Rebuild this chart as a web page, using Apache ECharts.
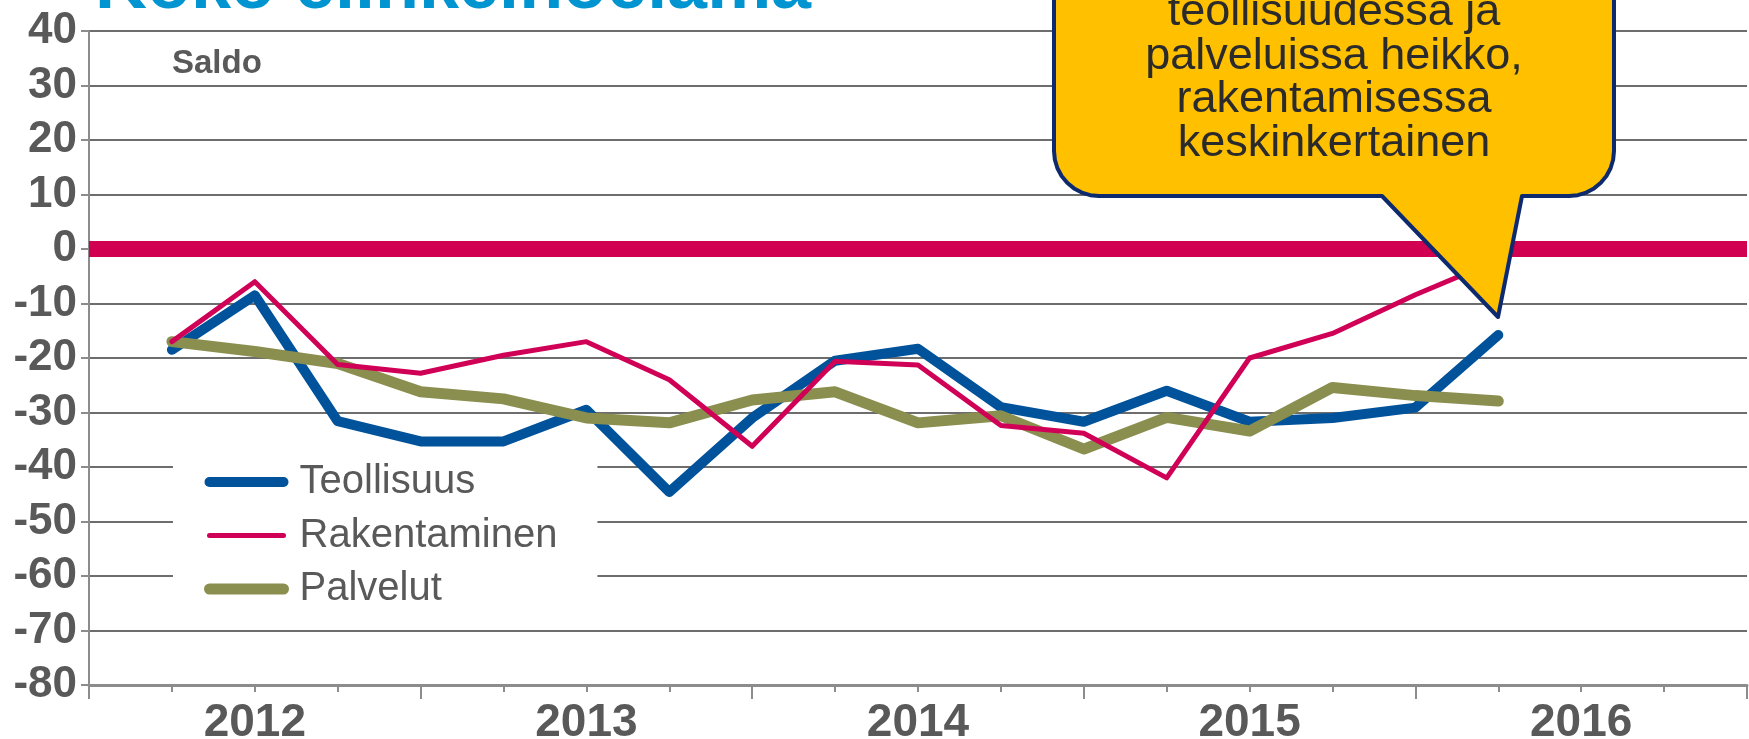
<!DOCTYPE html>
<html>
<head>
<meta charset="utf-8">
<script src="https://cdn.jsdelivr.net/npm/echarts@6/dist/echarts.min.js"></script>
<style>
  html, body { margin: 0; padding: 0; background: #fff; }
  #chart { width: 1749px; height: 739px; }
</style>
</head>
<body>
<div id="chart"></div>
<script>
// x positions: 21 tick points, data sits on points 1..17
const xLabels = ['', '', '2012', '', '', '', '2013', '', '', '', '2014', '', '', '', '2015', '', '', '', '2016', '', ''];
const yTicks = { min: -80, max: 40, step: 10 };

const teollisuus = [-18.5, -8.5, -31.6, -35.3, -35.3, -29.5, -44.6, -31, -20.5, -18.3, -29, -31.7, -26, -31.7, -31, -29.1, -15.8];
const rakentaminen = [-17, -6, -21.2, -22.8, -19.5, -17, -24, -36.2, -20.6, -21.3, -32.4, -33.8, -42, -20, -15.5, -8.4, -2];
const palvelut = [-17, -18.8, -21, -26.2, -27.5, -31, -31.9, -27.7, -26.2, -31.9, -30.6, -36.7, -30.9, -33.4, -25.4, -26.9, -27.9];

const calloutLines = ['teollisuudessa ja', 'palveluissa heikko,', 'rakentamisessa', 'keskinkertainen'];

const font = '"Liberation Sans", Arial, sans-serif';
const gray = '#595959';

// pad: first tick point is empty, series start at index 1
const pad = arr => [null].concat(arr);

// speech bubble outline (rounded bottom corners + pointer)
function bubblePoints(l, r, t, b, rad, tip) {
    const pts = [[l, t], [r, t]];
    for (let k = 0; k <= 8; k++) {
        const a = (Math.PI / 2) * k / 8;
        pts.push([r - rad + rad * Math.cos(a), b - rad + rad * Math.sin(a)]);
    }
    pts.push([tip.right, b], [tip.x, tip.y], [tip.left, b]);
    for (let k = 0; k <= 8; k++) {
        const a = Math.PI / 2 + (Math.PI / 2) * k / 8;
        pts.push([l + rad + rad * Math.cos(a), b - rad + rad * Math.sin(a)]);
    }
    return pts;
}

const chart = echarts.init(document.getElementById('chart'));

const option = {
    animation: false,
    grid: { left: 89, right: 2, top: 31, bottom: 54, outerBoundsMode: 'none' },
    legend: {
        orient: 'vertical',
        left: 173,
        top: 452,
        padding: [10, 40, 10, 31],
        backgroundColor: '#fff',
        itemWidth: 74,
        itemHeight: 14,
        itemGap: 13.5,
        itemStyle: { opacity: 0 },
        lineStyle: { width: 'inherit', cap: 'round', opacity: 1 },
        textStyle: { fontSize: 40, color: gray, fontFamily: font, lineHeight: 40, padding: [0, 0, 0, 11] },
        data: ['Teollisuus', 'Rakentaminen', 'Palvelut']
    },
    xAxis: [
        {
            type: 'category',
            position: 'bottom',
            boundaryGap: false,
            data: xLabels,
            axisLine: { onZero: false, lineStyle: { color: '#8c8c8c', width: 3 } },
            axisTick: { interval: idx => idx % 4 === 0, length: 14, lineStyle: { color: '#8c8c8c', width: 2 } },
            axisLabel: { interval: 0, margin: 15, fontSize: 46, fontWeight: 'bold', color: gray, fontFamily: font },
            splitLine: { show: false }
        },
        {
            // short ticks on every quarter
            type: 'category',
            position: 'bottom',
            boundaryGap: false,
            data: xLabels,
            axisLine: { show: false, onZero: false },
            axisTick: { interval: () => true, length: 7, lineStyle: { color: '#8c8c8c', width: 2 } },
            axisLabel: { show: false },
            splitLine: { show: false }
        }
    ],
    yAxis: {
        type: 'value',
        min: yTicks.min,
        max: yTicks.max,
        interval: yTicks.step,
        axisLine: { show: true, lineStyle: { color: '#8c8c8c', width: 2 } },
        axisTick: { show: true, length: 8, lineStyle: { color: '#8c8c8c', width: 2 } },
        axisLabel: { margin: 12, fontSize: 44, fontWeight: 'bold', color: gray, fontFamily: font },
        splitLine: { lineStyle: { color: '#3c3c3c', width: 1.5 } }
    },
    series: [
        {
            name: 'Teollisuus',
            type: 'line',
            data: pad(teollisuus),
            symbol: 'none',
            z: 2,
            color: '#00529B',
            lineStyle: { width: 10, color: '#00529B', cap: 'round', join: 'round' },
            markLine: {
                silent: true,
                symbol: 'none',
                z: 1,
                label: { show: false },
                lineStyle: { color: '#D10050', width: 16, type: 'solid' },
                data: [{ yAxis: 0 }]
            }
        },
        {
            name: 'Rakentaminen',
            type: 'line',
            data: pad(rakentaminen),
            symbol: 'none',
            z: 4,
            color: '#D10057',
            lineStyle: { width: 5, color: '#D10057', cap: 'round', join: 'round' }
        },
        {
            name: 'Palvelut',
            type: 'line',
            data: pad(palvelut),
            symbol: 'none',
            z: 3,
            color: '#8A8E4E',
            lineStyle: { width: 11, color: '#8A8E4E', cap: 'round', join: 'round' }
        }
    ],
    graphic: [
        {
            type: 'text',
            x: 95,
            y: -12,
            z: 100,
            style: { text: 'Koko elinkeinoelämä', font: 'bold 72px ' + font, fill: '#0095D0', align: 'left', verticalAlign: 'middle' }
        },
        {
            type: 'text',
            x: 172,
            y: 64,
            z: 100,
            style: { text: 'Saldo', font: 'bold 33px ' + font, fill: gray, align: 'left', verticalAlign: 'middle' }
        },
        {
            type: 'polygon',
            z: 100,
            shape: { points: bubblePoints(1054, 1614, -30, 196, 45, { left: 1382, right: 1522, x: 1498, y: 317 }) },
            style: { fill: '#FFC000', stroke: '#0D2A6E', lineWidth: 4, lineJoin: 'round' }
        },
        {
            type: 'text',
            x: 1334,
            y: 78,
            z: 101,
            style: {
                text: calloutLines.join('\n'),
                font: '45px ' + font,
                lineHeight: 43.5,
                fill: '#2b2b2b',
                align: 'center',
                verticalAlign: 'middle'
            }
        }
    ]
};

chart.setOption(option);
</script>
</body>
</html>
